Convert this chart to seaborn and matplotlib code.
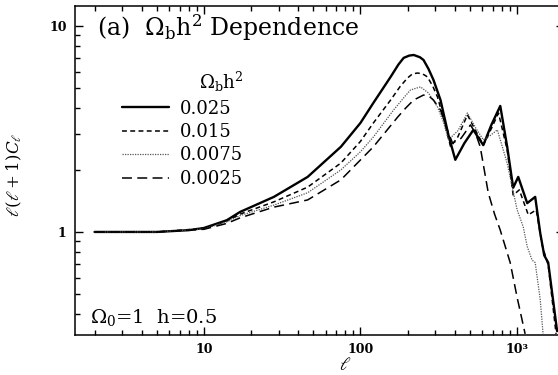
import numpy as np
import pandas as pd
import matplotlib
matplotlib.use("Agg")
import matplotlib.pyplot as plt
import matplotlib.ticker as mticker
import seaborn as sns

# ---- data ----
l_025 = [2, 3, 5, 8, 10, 14, 17, 28, 46, 75, 100, 121, 140, 156, 175, 189, 205, 219, 240, 253, 272, 293, 325, 365, 404, 462, 527, 570, 610, 687, 783, 867, 947, 1020, 1164, 1309, 1409, 1495, 1585, 1807]
c_025 = [1.0, 1.0, 1.0, 1.02, 1.045, 1.14, 1.25, 1.48, 1.85, 2.59, 3.38, 4.23, 5.0, 5.66, 6.5, 7.0, 7.18, 7.23, 7.05, 6.84, 6.2, 5.47, 4.37, 2.96, 2.24, 2.70, 3.13, 2.85, 2.64, 3.31, 4.09, 2.59, 1.64, 1.85, 1.38, 1.48, 0.99, 0.77, 0.71, 0.33]

l_015 = [2, 3, 5, 10, 14, 17, 28, 46, 75, 100, 121, 156, 180, 200, 215, 232, 250, 268, 290, 311, 345, 377, 420, 483, 545, 610, 690, 763, 867, 947, 1036, 1183, 1329, 1452, 1585, 1780]
c_015 = [1.0, 1.0, 1.0, 1.04, 1.13, 1.22, 1.40, 1.65, 2.16, 2.75, 3.38, 4.37, 5.1, 5.59, 5.85, 5.91, 5.85, 5.66, 5.1, 4.52, 3.4, 2.59, 2.9, 3.70, 3.1, 2.64, 3.2, 3.78, 2.5, 1.51, 1.6, 1.21, 1.28, 0.86, 0.69, 0.32]

l_0075 = [2, 3, 5, 10, 14, 17, 28, 46, 75, 100, 121, 163, 190, 209, 242, 272, 311, 340, 365, 420, 483, 545, 610, 680, 750, 866, 1004, 1097, 1164, 1250, 1309, 1409, 1470]
c_0075 = [1.0, 1.0, 1.0, 1.035, 1.12, 1.2, 1.35, 1.55, 2.0, 2.45, 2.89, 3.91, 4.5, 4.89, 5.06, 4.73, 4.04, 3.4, 2.80, 3.1, 3.78, 3.2, 2.8, 2.95, 3.13, 2.16, 1.28, 1.06, 0.85, 0.73, 0.71, 0.47, 0.32]

l_0025 = [2, 3, 5, 10, 14, 17, 28, 46, 75, 121, 173, 195, 219, 253, 275, 293, 325, 355, 388, 440, 505, 545, 583, 656, 720, 783, 906, 1004, 1129]
c_0025 = [1.0, 1.0, 1.0, 1.03, 1.1, 1.17, 1.32, 1.43, 1.79, 2.59, 3.61, 4.0, 4.37, 4.62, 4.55, 4.37, 3.91, 3.2, 2.70, 2.85, 3.31, 3.0, 2.59, 1.55, 1.22, 1.02, 0.71, 0.48, 0.32]

series_names = ["0.025", "0.015", "0.0075", "0.0025"]
x_ticks = [10, 100, 1000]
x_ticklabels = ["10", "100", "10³"]
y_ticks = [1, 10]
y_ticklabels = ["1", "10"]

frames = []
for name, ls, cs in zip(series_names, [l_025, l_015, l_0075, l_0025], [c_025, c_015, c_0075, c_0025]):
    frames.append(pd.DataFrame({"l": ls, "C": cs, "omega": name}))
df = pd.concat(frames, ignore_index=True)

sns.set_style("ticks")
plt.rcParams["font.family"] = ["DejaVu Serif", "DejaVu Sans"]
plt.rcParams["mathtext.fontset"] = "dejavuserif"
plt.rcParams["text.color"] = "black"
plt.rcParams["axes.labelcolor"] = "black"

fig = plt.figure(figsize=(5.58, 3.75), dpi=100)
ax = fig.add_axes([75 / 558, 40 / 375, (564 - 75) / 558, (335 - 6) / 375])

palette = {"0.025": "black", "0.015": "black", "0.0075": "#555555", "0.0025": "black"}
dashes = {"0.025": "", "0.015": (3.2, 2.2), "0.0075": (1.0, 1.0), "0.0025": (6.5, 3.5)}
sizes = {"0.025": 1.7, "0.015": 1.1, "0.0075": 0.9, "0.0025": 1.1}

sns.lineplot(data=df, x="l", y="C", hue="omega", style="omega", size="omega",
             hue_order=series_names, style_order=series_names, size_order=series_names,
             palette=palette, dashes=dashes, sizes=sizes, sort=False, estimator=None, ax=ax)

ax.set_xscale("log")
ax.set_yscale("log")
ax.set_xlim(1.5, 2000)
ax.set_ylim(0.316, 12.5)

ax.xaxis.set_major_locator(mticker.FixedLocator(x_ticks))
ax.xaxis.set_major_formatter(mticker.FixedFormatter(x_ticklabels))
ax.xaxis.set_minor_locator(mticker.LogLocator(base=10, subs=np.arange(2, 10)))
ax.xaxis.set_minor_formatter(mticker.NullFormatter())
ax.yaxis.set_major_locator(mticker.FixedLocator(y_ticks))
ax.yaxis.set_major_formatter(mticker.FixedFormatter(y_ticklabels))
ax.yaxis.set_minor_locator(mticker.LogLocator(base=10, subs=np.arange(2, 10)))
ax.yaxis.set_minor_formatter(mticker.NullFormatter())

ax.tick_params(which="both", direction="in", top=True, right=True, colors="black",
               width=1.0)
ax.tick_params(which="major", length=6, labelsize=9, pad=6)
ax.tick_params(which="minor", length=3.5)
for lab in ax.get_xticklabels() + ax.get_yticklabels():
    lab.set_fontweight("bold")
for sp in ax.spines.values():
    sp.set_linewidth(1.1)
    sp.set_color("black")

ax.set_xlabel(r"$\ell$", fontsize=13)
ax.xaxis.set_label_coords((345 - 75) / 489, (335 - 356) / 329)
ax.set_ylabel(r"$\ell(\ell+1)C_\ell$", fontsize=12)
ax.yaxis.set_label_coords((24 - 75) / 489, (335 - 175) / 329)

ax.text((97 - 75) / 489, (335 - 28) / 329,
        r"(a)  $\Omega_\mathrm{b}\mathrm{h}^\mathrm{2}$ Dependence",
        transform=ax.transAxes, fontsize=17, va="center", ha="left")
ax.text((90 - 75) / 489, (335 - 317) / 329, r"$\Omega_\mathrm{0}$=1  h=0.5",
        transform=ax.transAxes, fontsize=14, va="center", ha="left")

leg = ax.legend(title=r"$\Omega_\mathrm{b}\mathrm{h}^\mathrm{2}$", frameon=False,
                loc="upper left", bbox_to_anchor=((122 - 75) / 489, (335 - 70) / 329),
                borderaxespad=0, borderpad=0, fontsize=13, title_fontsize=13,
                handlelength=2.6, handletextpad=0.6, labelspacing=0.3,
                alignment="right")

fig.savefig("out.png", dpi=100, facecolor="white")
